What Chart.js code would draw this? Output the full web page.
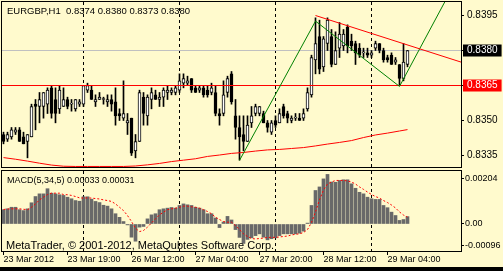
<!DOCTYPE html>
<html>
<head>
<meta charset="utf-8">
<script src="https://cdn.jsdelivr.net/npm/chart.js@4.4.1/dist/chart.umd.min.js"></script>
<style>
  html, body { margin: 0; padding: 0; background: #fffacd; }
  body { width: 503px; height: 271px; position: relative; overflow: hidden; }
  #priceChart { position: absolute; left: 0; top: 0; }
  #macdChart { position: absolute; left: 0; top: 168px; }
  #bottomBar { position: absolute; left: 0; top: 267px; width: 503px; height: 4px; background: #000; }
</style>
</head>
<body>
<canvas id="priceChart" width="503" height="169"></canvas>
<canvas id="macdChart" width="503" height="103"></canvas>
<div id="bottomBar"></div>
<script>
// EURGBP H1 bars, 23 Mar 2012 03:00 .. 29 Mar 2012 09:00
const open = [
  0.8344, 0.8342, 0.8343, 0.8345, 0.8346, 0.8343, 0.8341, 0.8343, 0.8357, 0.8356,
  0.8356, 0.8357, 0.8364, 0.8359, 0.8355, 0.8356, 0.8359, 0.8357, 0.8355, 0.8357,
  0.8357, 0.8363, 0.8363, 0.8358, 0.8359, 0.8359, 0.8358, 0.8359, 0.8358, 0.8353,
  0.8351, 0.8349, 0.8351, 0.8337, 0.8341, 0.8360, 0.8352, 0.8359, 0.8361, 0.8359,
  0.8360, 0.8362, 0.8362, 0.8362, 0.8363, 0.8366, 0.8366, 0.8368, 0.8364, 0.8363,
  0.8364, 0.8363, 0.8362, 0.8362, 0.8353, 0.8353, 0.8362, 0.8370, 0.8352, 0.8347,
  0.8344, 0.8341, 0.8349, 0.8353, 0.8353, 0.8353, 0.8349, 0.8345, 0.8350, 0.8349,
  0.8356, 0.8353, 0.8350, 0.8351, 0.8351, 0.8351, 0.8355, 0.8361, 0.8376, 0.8386,
  0.8373, 0.8383, 0.8386, 0.8374, 0.8381, 0.8382, 0.8390, 0.8384, 0.8383, 0.8381,
  0.8379, 0.8379, 0.8378, 0.8381, 0.8383, 0.8380, 0.8377, 0.8378, 0.8375, 0.8374,
  0.8368, 0.8374
];
const high = [
  0.8345, 0.8345, 0.8347, 0.8347, 0.8347, 0.8345, 0.8344, 0.8357, 0.8359, 0.8362,
  0.8362, 0.8364, 0.8365, 0.8364, 0.8365, 0.8364, 0.8360, 0.8359, 0.8359, 0.8359,
  0.8365, 0.8366, 0.8365, 0.8361, 0.8362, 0.8360, 0.8361, 0.8361, 0.8364, 0.8355,
  0.8367, 0.8353, 0.8351, 0.8344, 0.8363, 0.8362, 0.8361, 0.8364, 0.8363, 0.8362,
  0.8364, 0.8365, 0.8364, 0.8365, 0.8370, 0.8370, 0.8369, 0.8368, 0.8365, 0.8365,
  0.8365, 0.8365, 0.8366, 0.8365, 0.8355, 0.8367, 0.8369, 0.8371, 0.8359, 0.8352,
  0.8352, 0.8352, 0.8356, 0.8357, 0.8356, 0.8354, 0.8350, 0.8350, 0.8352, 0.8355,
  0.8357, 0.8354, 0.8352, 0.8353, 0.8353, 0.8355, 0.8364, 0.8378, 0.8394, 0.8393,
  0.8386, 0.8394, 0.8389, 0.8388, 0.8392, 0.8389, 0.8391, 0.8387, 0.8384, 0.8383,
  0.8381, 0.8381, 0.8380, 0.8384, 0.8383, 0.8381, 0.8378, 0.8379, 0.8377, 0.8374,
  0.8383, 0.8380
];
const low = [
  0.8340, 0.8341, 0.8342, 0.8344, 0.8341, 0.8340, 0.8334, 0.8343, 0.8346, 0.8349,
  0.8351, 0.8353, 0.8351, 0.8349, 0.8353, 0.8356, 0.8355, 0.8354, 0.8354, 0.8356,
  0.8356, 0.8362, 0.8359, 0.8356, 0.8359, 0.8357, 0.8356, 0.8354, 0.8348, 0.8350,
  0.8350, 0.8344, 0.8335, 0.8334, 0.8341, 0.8348, 0.8348, 0.8355, 0.8359, 0.8356,
  0.8356, 0.8359, 0.8361, 0.8361, 0.8362, 0.8364, 0.8365, 0.8362, 0.8362, 0.8362,
  0.8360, 0.8360, 0.8361, 0.8352, 0.8348, 0.8352, 0.8360, 0.8357, 0.8342, 0.8333,
  0.8337, 0.8341, 0.8347, 0.8352, 0.8352, 0.8349, 0.8345, 0.8344, 0.8347, 0.8349,
  0.8351, 0.8349, 0.8349, 0.8350, 0.8350, 0.8350, 0.8354, 0.8360, 0.8370, 0.8370,
  0.8371, 0.8380, 0.8373, 0.8374, 0.8377, 0.8380, 0.8379, 0.8380, 0.8374, 0.8377,
  0.8377, 0.8377, 0.8377, 0.8380, 0.8379, 0.8375, 0.8375, 0.8374, 0.8374, 0.8365,
  0.8367, 0.8373
];
const close = [
  0.8341, 0.8344, 0.8346, 0.8346, 0.8341, 0.8340, 0.8344, 0.8356, 0.8356, 0.8359,
  0.8362, 0.8363, 0.8353, 0.8353, 0.8363, 0.8359, 0.8356, 0.8357, 0.8359, 0.8358,
  0.8365, 0.8365, 0.8359, 0.8359, 0.8360, 0.8359, 0.8359, 0.8357, 0.8352, 0.8352,
  0.8353, 0.8350, 0.8336, 0.8341, 0.8362, 0.8353, 0.8360, 0.8362, 0.8359, 0.8360,
  0.8363, 0.8363, 0.8363, 0.8364, 0.8367, 0.8368, 0.8367, 0.8363, 0.8362, 0.8364,
  0.8361, 0.8361, 0.8364, 0.8353, 0.8352, 0.8361, 0.8368, 0.8358, 0.8347, 0.8343,
  0.8341, 0.8348, 0.8352, 0.8356, 0.8356, 0.8349, 0.8347, 0.8349, 0.8348, 0.8353,
  0.8352, 0.8351, 0.8351, 0.8351, 0.8350, 0.8353, 0.8362, 0.8377, 0.8383, 0.8372,
  0.8385, 0.8393, 0.8374, 0.8380, 0.8387, 0.8387, 0.8382, 0.8382, 0.8379, 0.8378,
  0.8379, 0.8378, 0.8379, 0.8383, 0.8380, 0.8376, 0.8376, 0.8374, 0.8376, 0.8368,
  0.8375, 0.8380
];

// long moving average (red), read every 3 bars
const maBars = [0, 3, 6, 9, 12, 15, 18, 21, 24, 27, 30, 33, 36, 39, 42, 45, 48, 51,
  54, 57, 60, 63, 66, 69, 72, 75, 78, 81, 84, 87, 90, 93, 96, 99, 101];
const maValues = [0.83341, 0.83334, 0.83326, 0.83317, 0.83309, 0.83304, 0.83303, 0.83303,
  0.83303, 0.83303, 0.83303, 0.83305, 0.83310, 0.83316, 0.83324, 0.83330, 0.83336, 0.83346,
  0.83352, 0.83359, 0.83363, 0.83369, 0.83374, 0.83376, 0.83380, 0.83384, 0.83391, 0.83399,
  0.83406, 0.83414, 0.83427, 0.83438, 0.83446, 0.83455, 0.83461];

// MACD(5,34,5): main (histogram) and signal (dotted)
const macdMain = [
  0.00064, 0.00068, 0.00075, 0.00075, 0.00064, 0.00060, 0.00068, 0.00095, 0.00123, 0.00135,
  0.00135, 0.00158, 0.00138, 0.00135, 0.00131, 0.00128, 0.00120, 0.00113, 0.00105, 0.00102,
  0.00122, 0.00122, 0.00111, 0.00101, 0.00096, 0.00084, 0.00080, 0.00068, 0.00046, 0.00030,
  0.00011, -0.00004, -0.00059, -0.00077, -0.00014, -0.00011, 0.00023, 0.00041, 0.00046, 0.00064,
  0.00068, 0.00071, 0.00074, 0.00071, 0.00083, 0.00090, 0.00086, 0.00083, 0.00075, 0.00071,
  0.00064, 0.00046, 0.00046, 0.00027, -0.00016, 0.00009, 0.00034, 0.00018, -0.00025, -0.00060,
  -0.00087, -0.00069, -0.00062, -0.00052, -0.00044, -0.00059, -0.00071, -0.00066, -0.00062, -0.00052,
  -0.00044, -0.00044, -0.00044, -0.00044, -0.00041, -0.00032, 0.00004, 0.00083, 0.00150, 0.00166,
  0.00202, 0.00222, 0.00188, 0.00187, 0.00195, 0.00198, 0.00198, 0.00180, 0.00160, 0.00142,
  0.00135, 0.00120, 0.00113, 0.00110, 0.00110, 0.00083, 0.00073, 0.00053, 0.00038, 0.00016,
  0.00020, 0.00033
];
const macdSignal = [
  0.00065, 0.00067, 0.00068, 0.00068, 0.00068, 0.00066, 0.00064, 0.00075, 0.00090, 0.00108,
  0.00120, 0.00132, 0.00138, 0.00138, 0.00138, 0.00132, 0.00131, 0.00128, 0.00123, 0.00117,
  0.00116, 0.00117, 0.00116, 0.00114, 0.00112, 0.00108, 0.00105, 0.00101, 0.00090, 0.00075,
  0.00060, 0.00038, 0.00011, -0.00019, -0.00034, -0.00029, -0.00014, 0.00005, 0.00023, 0.00041,
  0.00053, 0.00064, 0.00068, 0.00071, 0.00075, 0.00080, 0.00080, 0.00077, 0.00075, 0.00071,
  0.00064, 0.00056, 0.00046, 0.00030, 0.00020, 0.00011, 0.00008, 0.00008, -0.00007, -0.00025,
  -0.00044, -0.00056, -0.00065, -0.00067, -0.00065, -0.00063, -0.00060, -0.00060, -0.00060, -0.00058,
  -0.00056, -0.00054, -0.00049, -0.00046, -0.00044, -0.00038, -0.00025, 0.00007, 0.00054, 0.00108,
  0.00152, 0.00179, 0.00188, 0.00195, 0.00195, 0.00195, 0.00193, 0.00188, 0.00179, 0.00166,
  0.00155, 0.00143, 0.00132, 0.00123, 0.00116, 0.00105, 0.00096, 0.00085, 0.00072, 0.00054,
  0.00040, 0.00031
];

// user objects: [bar, price] pairs
const greenLine1 = [[59, 0.83329], [78, 0.83926]];
const greenLine2 = [[78, 0.83926], [99, 0.83646]];
const greenLine3 = [[99, 0.83646], [111, 0.84030]];
const redTrend = [[78, 0.83950], [115, 0.83747]];
const levelPrice = 0.8365;
const bidPrice = 0.8380;

// axes
const timeTicks = [0, 16, 32, 48, 64, 80, 96];
const timeLabels = ['23 Mar 2012', '23 Mar 19:00', '26 Mar 12:00', '27 Mar 04:00',
  '27 Mar 20:00', '28 Mar 12:00', '29 Mar 04:00'];
const dayBreaks = [20, 44, 68, 92];
const priceTicks = [0.8335, 0.8350, 0.8365, 0.8380, 0.8395];
const macdTicks = [-0.00096, 0, 0.00204];

const xMin = -0.375, xMax = 114.375;
const priceMin = 0.833007, priceMax = 0.840079;
const macdMin = -0.001209, macdMax = 0.0023732;

const bars = open.map((_, i) => i);
const font9 = { family: 'Liberation Sans', size: 9 };
const font10 = { family: 'Liberation Sans', size: 10 };
const clear = 'rgba(0,0,0,0)';
const toPoints = pairs => pairs.map(p => ({ x: p[0], y: p[1] }));

// draws the pane frame and the texts that MetaTrader puts inside a pane
function paneDecor(texts) {
  return {
    id: 'paneDecor',
    afterDraw(chart) {
      const { ctx, chartArea: a } = chart;
      ctx.save();
      ctx.strokeStyle = '#000';
      ctx.lineWidth = 1;
      ctx.strokeRect(a.left - 0.5, a.top - 0.5, a.right - a.left + 1, a.bottom - a.top + 1);
      ctx.fillStyle = '#000';
      texts.forEach(t => {
        ctx.font = t.font;
        ctx.fillText(t.text, t.x, t.y);
      });
      ctx.restore();
    }
  };
}

const last = bars.length - 1;
const fmt4 = v => v.toFixed(4);
const flat = (v, from, to) => [{ x: from, y: v }, { x: to, y: v }];

new Chart(document.getElementById('priceChart'), {
  type: 'bar',
  data: {
    datasets: [
      { type: 'line', data: toPoints(redTrend), borderColor: '#ff0000', order: 0 },
      { type: 'line', data: toPoints(greenLine1), borderColor: '#008000', order: 0 },
      { type: 'line', data: toPoints(greenLine2), borderColor: '#008000', order: 0 },
      { type: 'line', data: toPoints(greenLine3), borderColor: '#008000', order: 0 },
      { type: 'line', data: flat(levelPrice, xMin, xMax), borderColor: '#ff0000', order: 0 },
      { type: 'line', data: maBars.map((b, k) => ({ x: b, y: maValues[k] })), borderColor: '#ff0000', order: 0 },
      {
        data: bars.map(i => ({ x: i, y: [open[i], close[i]] })),
        backgroundColor: bars.map(i => close[i] >= open[i] ? '#ffffff' : '#000000'),
        borderColor: '#000', borderWidth: 1, borderSkipped: false,
        barThickness: 3, minBarLength: 1, order: 1
      },
      {
        data: bars.map(i => ({ x: i, y: [low[i], high[i]] })),
        backgroundColor: '#000', barThickness: 1, order: 2
      },
      { type: 'line', data: flat(bidPrice, xMin, xMax), borderColor: '#c0c0c0', order: 3 }
    ]
  },
  options: {
    responsive: false,
    animation: false,
    devicePixelRatio: 1,
    layout: { padding: { left: 2, top: 2, right: 0, bottom: 2 } },
    plugins: { legend: { display: false }, tooltip: { enabled: false } },
    datasets: {
      bar: { grouped: false, barPercentage: 1, categoryPercentage: 1 },
      line: { borderWidth: 1, pointRadius: 0, clip: 0 }
    },
    scales: {
      x: {
        type: 'linear', min: xMin, max: xMax, offset: false,
        afterBuildTicks: s => { s.ticks = dayBreaks.map(v => ({ value: v })); },
        afterFit: s => { s.height = 0; s.paddingLeft = 0; s.paddingRight = 0; },
        ticks: { display: false },
        grid: { offset: false, drawTicks: false, color: '#000' },
        border: { display: false, dash: [3, 3] }
      },
      y: {
        type: 'linear', position: 'right', min: priceMin, max: priceMax,
        afterBuildTicks: s => { s.ticks = priceTicks.map(v => ({ value: v })); },
        afterFit: s => { s.width = 42; s.paddingTop = 0; s.paddingBottom = 0; },
        ticks: {
          font: font10, padding: 3,
          color: c => c.tick && (c.tick.value === bidPrice || c.tick.value === levelPrice) ? '#fff' : '#000',
          showLabelBackdrop: true,
          backdropColor: c => !c.tick ? clear : c.tick.value === bidPrice ? '#000' : c.tick.value === levelPrice ? '#ff0000' : clear,
          backdropPadding: { left: 4, right: 4, top: 0, bottom: 0 },
          callback: v => fmt4(v)
        },
        grid: { drawOnChartArea: false, tickLength: 3, tickColor: '#000' },
        border: { display: false }
      }
    }
  },
  plugins: [paneDecor([
    { text: 'EURGBP,H1', x: 7, y: 14, font: '9.5px "Liberation Sans"' },
    { text: [open[last], high[last], low[last], close[last]].map(fmt4).join(' '), x: 66, y: 14, font: '9.5px "Liberation Sans"' }
  ])]
});

new Chart(document.getElementById('macdChart'), {
  type: 'bar',
  data: {
    datasets: [
      {
        type: 'line', data: bars.map(i => ({ x: i, y: macdSignal[i] })),
        borderColor: '#ff0000', borderDash: [2, 2], order: 0
      },
      {
        data: bars.map(i => ({ x: i, y: macdMain[i] })),
        backgroundColor: '#696969', barThickness: 3, order: 1
      }
    ]
  },
  options: {
    responsive: false,
    animation: false,
    devicePixelRatio: 1,
    layout: { padding: { left: 2, top: 3, right: 0, bottom: 0 } },
    plugins: { legend: { display: false }, tooltip: { enabled: false } },
    datasets: {
      bar: { grouped: false, barPercentage: 1, categoryPercentage: 1 },
      line: { borderWidth: 1, pointRadius: 0, clip: 0 }
    },
    scales: {
      x: {
        type: 'linear', min: xMin, max: xMax, offset: false,
        afterBuildTicks: s => {
          s.ticks = timeTicks.concat(dayBreaks).sort((a, b) => a - b).map(v => ({ value: v }));
        },
        afterFit: s => { s.height = 20; s.paddingLeft = 0; s.paddingRight = 0; },
        ticks: {
          font: font9, color: '#000', autoSkip: false, maxRotation: 0, align: 'start', padding: -1,
          callback: v => { const k = timeTicks.indexOf(v); return k >= 0 ? timeLabels[k] : ''; }
        },
        grid: {
          offset: false, tickLength: 4,
          color: c => c.tick && dayBreaks.includes(c.tick.value) ? '#000' : clear,
          tickColor: c => c.tick && timeTicks.includes(c.tick.value) ? '#000' : clear
        },
        border: { display: false, dash: [3, 3] }
      },
      y: {
        type: 'linear', position: 'right', min: macdMin, max: macdMax,
        afterBuildTicks: s => { s.ticks = macdTicks.map(v => ({ value: v })); },
        afterFit: s => { s.width = 42; s.paddingTop = 0; s.paddingBottom = 0; },
        ticks: { font: font9, color: '#000', padding: 1, callback: v => v === 0 ? '0.00' : v.toFixed(5) },
        grid: { drawOnChartArea: false, tickLength: 3, tickColor: '#000' },
        border: { display: false }
      }
    }
  },
  plugins: [paneDecor([
    { text: 'MACD(5,34,5) ' + macdMain[last].toFixed(5) + ' ' + macdSignal[last].toFixed(5), x: 7, y: 15, font: '9px "Liberation Sans"' },
    { text: 'MetaTrader, © 2001-2012, MetaQubtes Software Corp.', x: 6, y: 81, font: '11px "Liberation Sans"' }
  ])]
});
</script>
</body>
</html>
